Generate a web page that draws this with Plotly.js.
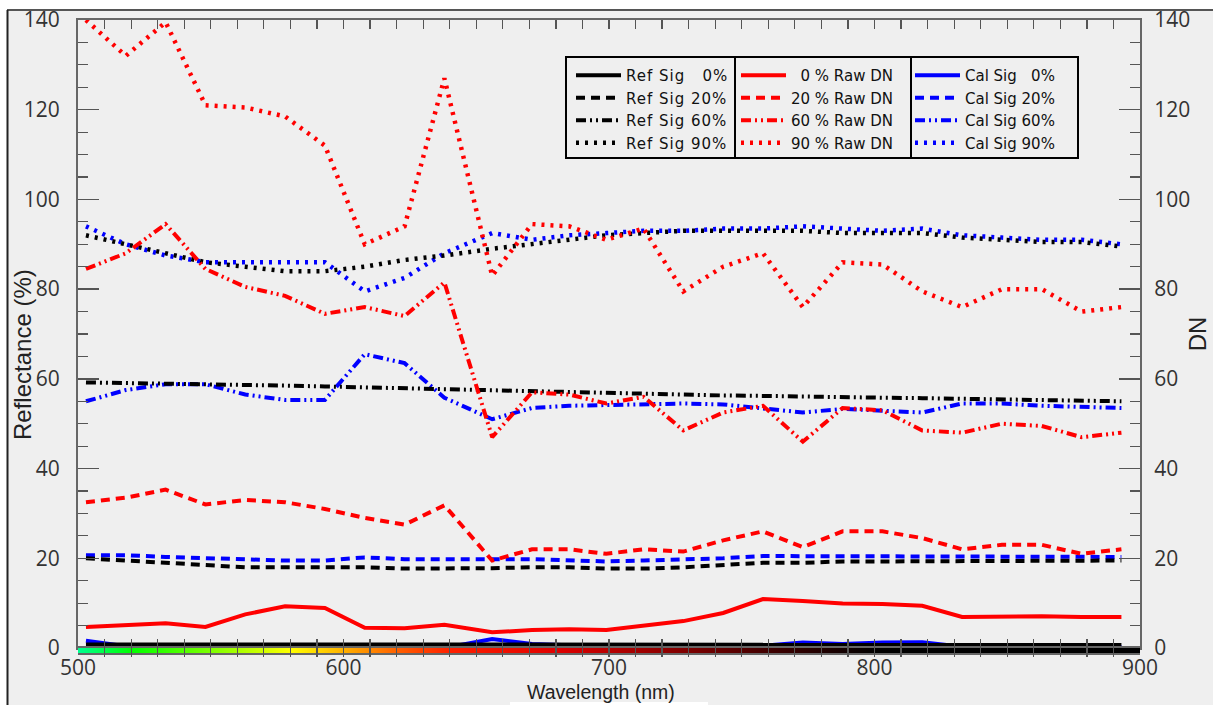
<!DOCTYPE html>
<html><head><meta charset="utf-8">
<script src="https://cdn.plot.ly/plotly-3.0.1.min.js"></script>
<style>html,body{margin:0;padding:0;background:#fff;} #chart{width:1213px;height:705px;} .legendtext{letter-spacing:1px;}</style>
</head><body><div id="chart"></div>
<script>
// ---- data ----
const wavelength = [503,518,533,548,563,578,593,608,623,638,656,671,685,699,713,728,743,758,773,788,803,818,833,848,863,878,893];

const refSig0  = [0.8,0.8,0.8,0.8,0.8,0.8,0.8,0.7,0.7,0.7,0.7,0.7,0.7,0.7,0.7,0.7,0.7,0.7,0.7,0.7,0.7,0.7,0.7,0.7,0.7,0.7,0.7];
const refSig20 = [20,19.5,19,18.3,18,18,18,18,17.7,17.7,17.8,18,18,17.7,17.7,18,18.5,19,19,19.3,19.3,19.3,19.5,19.5,19.5,19.5,19.5];
const refSig60 = [59.2,59.1,59,58.8,58.6,58.5,58.3,58.1,57.9,57.6,57.3,57.1,56.9,56.8,56.6,56.4,56.3,56.2,56,55.9,55.8,55.7,55.6,55.4,55.3,55.1,55];
const refSig90 = [92,90,88,86,85,84,84,85,86.5,87.5,89,90,91,92,92.5,93,93,93,93,92.5,92.5,92.5,91.5,91,90.5,90.5,89.5];

const rawDN0  = [4.7,5,5.5,4.7,7.5,9.3,8.9,4.5,4.4,5.2,3.5,4,4.2,4,4.9,6,7.8,10.9,10.5,9.9,9.8,9.4,6.9,7,7.1,6.9,6.9];
const rawDN20 = [32.5,33.5,35.3,32,33,32.5,31,29,27.5,31.8,19.5,22,22,21,22,21.5,24,26,22.5,26,26,24.5,22,23,23,21,22];
const rawDN60 = [84.5,88,94.5,84.5,80.5,78.5,74.5,76,74,81.5,47,57,56.5,54.5,56,48.5,52.5,54,46,53.5,53,48.5,48,50,49.5,47,48];
const rawDN90 = [140,132,139.5,121,120.5,118.5,112,90,94,127,83,94.5,94,91,93.5,79.5,85,88,76,86,85.5,79.5,76,80,80,75,76];

const calSig0  = [1.6,0.4,0.2,0.1,0.3,0.5,0.2,0.2,0.2,0.0,2.0,0.9,0.6,0.4,0.3,0.3,0.3,0.5,1.2,0.9,1.2,1.3,0.3,0.2,0.2,0.2,0.2];
const calSig20 = [20.7,20.7,20.3,20,19.8,19.5,19.5,20.2,19.8,19.7,19.8,19.8,19.5,19.3,19.5,19.7,20,20.5,20.5,20.3,20.3,20.3,20.5,20.5,20.5,20.3,20.3];
const calSig60 = [55,57.5,58.8,58.8,56.5,55.3,55.3,65.5,63.5,55.8,51,53.5,54,54.2,54.3,54.5,54.3,53.5,52.5,53.3,53,52.5,54.5,54.5,54,53.8,53.5];
const calSig90 = [94,90,87.5,86,86,86,86,79.5,82.5,88,92.5,91,92,92.5,93,93,93.5,93.5,94,93.5,93,93.5,92,91.5,91,91,90];

// spectrum colour strip along the wavelength axis
const stripWavelength = [500,510,520,530,540,550,560,570,580,590,600,610,620,630,640,650,660,670,680,690,700,710,720,730,740,750,760,770,780,790,800,810,820,830,840,850,860,870,880,890,900];

const legendNames = {
  ref: ['Ref Sig\u00a0\u00a0\u00a00%','Ref Sig 20%','Ref Sig 60%','Ref Sig 90%'],
  raw: ['\u00a0\u00a00 % Raw DN','20 % Raw DN','60 % Raw DN','90 % Raw DN'],
  cal: ['Cal Sig\u00a0\u00a0\u00a00%','Cal Sig 20%','Cal Sig 60%','Cal Sig 90%']
};
const axisTitles = {x:'Wavelength (nm)', yLeft:'Reflectance (%)', yRight:'DN'};

// ---- styling ----
const DASHES = ['solid','9px,6px','10px,4px,2px,4px,2px,4px','3px,6px'];
const LW = 4;

function mk(y, name, color, dashIdx, legend, yaxis){
  return {x: wavelength, y: y, name: name, type:'scatter', mode:'lines',
    line:{color: color, width: dashIdx === 3 ? 4.5 : LW, dash: DASHES[dashIdx]},
    legend: legend, yaxis: yaxis, hoverinfo:'skip'};
}

const traces = [
  {type:'heatmap', x: stripWavelength, y:[0], z:[stripWavelength], xaxis:'x', yaxis:'y3',
   zsmooth:'best', showscale:false, hoverinfo:'skip', zmin:500, zmax:900, showlegend:false,
   colorscale:[[0,'#00ff90'],[0.05,'#00ff00'],[0.15,'#a8ff00'],[0.2,'#ffff00'],[0.25,'#ffb000'],[0.3,'#ff6000'],[0.35,'#ff2000'],[0.45,'#e00000'],[0.55,'#900000'],[0.65,'#400000'],[0.75,'#000000'],[1,'#000000']]},
  mk(rawDN0,  legendNames.raw[0], '#ff0000', 0, 'legend2', 'y2'),
  mk(rawDN20, legendNames.raw[1], '#ff0000', 1, 'legend2', 'y2'),
  mk(rawDN60, legendNames.raw[2], '#ff0000', 2, 'legend2', 'y2'),
  mk(rawDN90, legendNames.raw[3], '#ff0000', 3, 'legend2', 'y2'),
  mk(calSig0,  legendNames.cal[0], '#0000ff', 0, 'legend3', 'y'),
  mk(calSig20, legendNames.cal[1], '#0000ff', 1, 'legend3', 'y'),
  mk(calSig60, legendNames.cal[2], '#0000ff', 2, 'legend3', 'y'),
  mk(calSig90, legendNames.cal[3], '#0000ff', 3, 'legend3', 'y'),
  mk(refSig0,  legendNames.ref[0], '#000000', 0, 'legend', 'y'),
  mk(refSig20, legendNames.ref[1], '#000000', 1, 'legend', 'y'),
  mk(refSig60, legendNames.ref[2], '#000000', 2, 'legend', 'y'),
  mk(refSig90, legendNames.ref[3], '#000000', 3, 'legend', 'y')
];

// layout helpers: pixel -> paper
const L = 78, R = 1140, T = 20, B = 653;
const pxX = p => (p - L) / (R - L);
const pxY = p => (B - p) / (B - T);

const tickFont = {family:'Open Sans', size:21, color:'#333'};
const xTitleFont = {family:'Liberation Sans, Arial, sans-serif', size:19.5, color:'#222'};
const yTitleFont = {family:'Liberation Sans, Arial, sans-serif', size:24, color:'#222'};
const axisCommon = {showgrid:false, zeroline:false, showline:true, linecolor:'#666', linewidth:2,
  ticks:'inside', tickcolor:'#555', tickwidth:1.5, tickfont: tickFont};

const legendCommon = {bgcolor:'rgba(0,0,0,0)', borderwidth:0,
  font:{family:'DejaVu Sans, sans-serif', size:15, color:'#111'},
  yanchor:'top', xanchor:'left', y: pxY(59), itemwidth:45, tracegroupgap:0,
  itemclick:false, itemdoubleclick:false};

const layout = {
  width:1213, height:705,
  margin:{l:L, r:1213-R, t:T, b:705-B},
  paper_bgcolor:'#efefef', plot_bgcolor:'#efefef',
  showlegend:true,
  xaxis: Object.assign({}, axisCommon, {range:[500,900], tick0:500, dtick:100, ticklen:9,
    mirror:'allticks', anchor:'y',
    minor:{dtick:10, ticks:'inside', ticklen:5, tickcolor:'#555', tickwidth:1.2}}),
  yaxis: Object.assign({}, axisCommon, {domain:[pxY(648),1], range:[0,140], dtick:20, ticklen:21,
    ticklabelstandoff:12,
    minor:{dtick:5, ticks:'inside', ticklen:10, tickcolor:'#555', tickwidth:1.2}}),
  yaxis2: Object.assign({}, axisCommon, {overlaying:'y', side:'right', range:[0,140], dtick:20, ticklen:21,
    ticklabelstandoff:8,
    minor:{dtick:5, ticks:'inside', ticklen:10, tickcolor:'#555', tickwidth:1.2},
    title:{text:axisTitles.yRight, font:yTitleFont, standoff:0}}),
  yaxis3: {domain:[0, pxY(648)], visible:false, fixedrange:true},
  legend:  Object.assign({}, legendCommon, {x: pxX(571)}),
  legend2: Object.assign({}, legendCommon, {x: pxX(736)}),
  legend3: Object.assign({}, legendCommon, {x: pxX(910)}),
  annotations:[
    {text:axisTitles.yLeft, xref:'paper', yref:'paper', x:pxX(22), y:pxY(355), textangle:-90,
     showarrow:false, font:yTitleFont, xanchor:'center', yanchor:'middle'},
    {text:axisTitles.x, xref:'paper', yref:'paper', x:pxX(601), y:pxY(692),
     showarrow:false, font:xTitleFont, xanchor:'center', yanchor:'middle'}
  ],
  shapes:[
    {type:'rect', xref:'paper', yref:'paper', x0:pxX(0), x1:pxX(1213), y0:pxY(9.5), y1:pxY(0), fillcolor:'#ffffff', line:{width:0}},
    {type:'rect', xref:'paper', yref:'paper', x0:pxX(0), x1:pxX(7), y0:pxY(705), y1:pxY(0), fillcolor:'#ffffff', line:{width:0}},
    {type:'rect', xref:'paper', yref:'paper', x0:pxX(510), x1:pxX(708), y0:pxY(705), y1:pxY(702), fillcolor:'#ffffff', line:{width:0}},
    {type:'line', xref:'paper', yref:'paper', x0:pxX(7), x1:pxX(1213), y0:pxY(10), y1:pxY(10), line:{color:'#555', width:2}},
    {type:'line', xref:'paper', yref:'paper', x0:pxX(7.5), x1:pxX(7.5), y0:pxY(10), y1:pxY(705), line:{color:'#222', width:2}},
    // legend frame and column dividers
    {type:'rect', xref:'paper', yref:'paper', x0:pxX(566), x1:pxX(1078), y0:pxY(158), y1:pxY(57), line:{color:'#000', width:2}, layer:'above'},
    {type:'line', xref:'paper', yref:'paper', x0:pxX(735), x1:pxX(735), y0:pxY(158), y1:pxY(57), line:{color:'#000', width:2}, layer:'above'},
    {type:'line', xref:'paper', yref:'paper', x0:pxX(911), x1:pxX(911), y0:pxY(158), y1:pxY(57), line:{color:'#000', width:2}, layer:'above'}
  ]
};

Plotly.newPlot('chart', traces, layout, {displayModeBar:false, staticPlot:true});
</script>
</body></html>
